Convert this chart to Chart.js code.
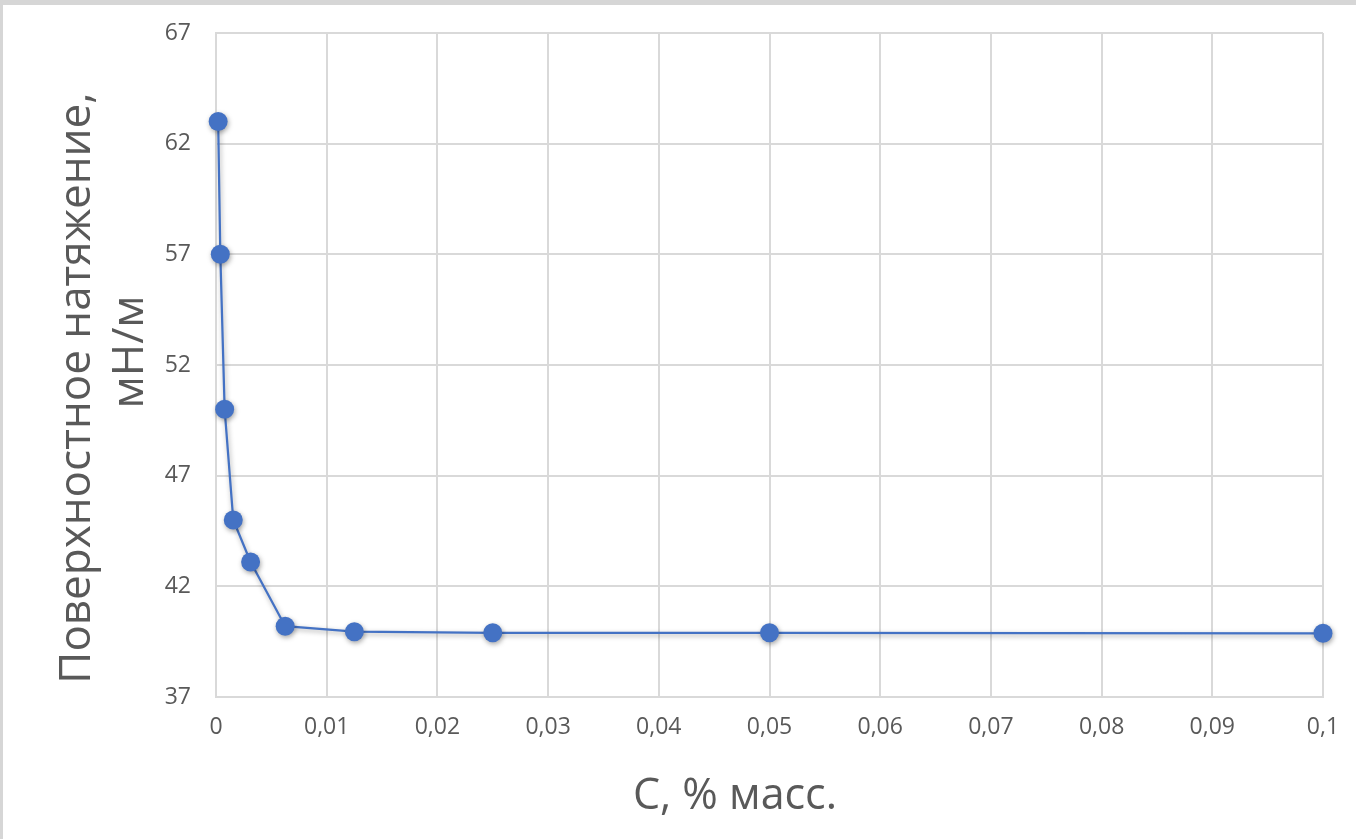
<!DOCTYPE html>
<html>
<head>
<meta charset="utf-8">
<script src="https://cdn.jsdelivr.net/npm/chart.js@4/dist/chart.umd.min.js"></script>
<style>
  html, body { margin: 0; padding: 0; background: #d6d6d6; }
  #frame { position: absolute; left: 3px; top: 5px; width: 1353px; height: 834px; background: #ffffff; }
  #wrap { position: absolute; left: 0; top: 0; width: 1356px; height: 839px; }
</style>
</head>
<body>
<div id="frame"></div>
<div id="wrap"><canvas id="c" width="1356" height="839"></canvas></div>
<script>
// Concentration, % mass
const concentrations = [0.000195, 0.00039, 0.00078, 0.00156, 0.003125, 0.00625, 0.0125, 0.025, 0.05, 0.1];
// Surface tension, mN/m
const surfaceTension = [63, 57, 50, 45, 43.1, 40.2, 39.95, 39.9, 39.9, 39.88];
// Tick labels
const xTickLabels = ['0', '0,01', '0,02', '0,03', '0,04', '0,05', '0,06', '0,07', '0,08', '0,09', '0,1'];
const yTickValues = [37, 42, 47, 52, 57, 62, 67];
const xTitle = 'C, % масс.';
const yTitle = ['Поверхностное натяжение,', 'мН/м'];

const points = concentrations.map((x, i) => ({ x: x, y: surfaceTension[i] }));
const gridColor = '#d9d9d9';
const textColor = '#595959';
const fontFamily = '"Open Sans", "Noto Sans", sans-serif';

const shadowPlugin = {
  id: 'shadow',
  beforeDatasetsDraw(chart) {
    const ctx = chart.ctx;
    ctx.save();
    ctx.shadowColor = 'rgba(0,0,0,0.35)';
    ctx.shadowBlur = 5;
    ctx.shadowOffsetX = 1;
    ctx.shadowOffsetY = 2;
  },
  afterDatasetsDraw(chart) {
    chart.ctx.restore();
  }
};

function drawRotated(ctx, text, x, y, size) {
  ctx.save();
  ctx.fillStyle = textColor;
  ctx.textAlign = 'center';
  ctx.textBaseline = 'middle';
  ctx.font = size + 'px ' + fontFamily;
  ctx.translate(x, y);
  ctx.rotate(-Math.PI / 2);
  ctx.fillText(text, 0, 0);
  ctx.restore();
}

const titlesPlugin = {
  id: 'titles',
  afterDraw(chart) {
    const ctx = chart.ctx;
    ctx.save();
    ctx.fillStyle = textColor;
    ctx.textAlign = 'center';
    ctx.textBaseline = 'middle';
    ctx.font = '43px ' + fontFamily;
    ctx.fillText(xTitle, 735, 797);
    ctx.restore();
    drawRotated(ctx, yTitle[0], 77, 388, 44);
    drawRotated(ctx, yTitle[1], 130, 352, 44);
  }
};

new Chart(document.getElementById('c'), {
  type: 'scatter',
  data: {
    datasets: [{
      data: points,
      showLine: true,
      borderColor: '#4472c4',
      backgroundColor: '#4472c4',
      borderWidth: 2.25,
      pointRadius: 9.5,
      pointHoverRadius: 9.5,
      pointBorderWidth: 0,
      tension: 0,
      clip: false
    }]
  },
  options: {
    responsive: false,
    animation: false,
    layout: { padding: { top: 33, right: 33, left: 0, bottom: 0 } },
    plugins: { legend: { display: false }, tooltip: { enabled: false } },
    scales: {
      x: {
        type: 'linear',
        min: 0, max: 0.1,
        afterBuildTicks: (s) => { s.ticks = xTickLabels.map((_, i) => ({ value: i / 100 })); },
        ticks: {
          color: textColor,
          font: { family: fontFamily, size: 23 },
          padding: 17,
          maxRotation: 0,
          autoSkip: false,
          callback: (v, i) => xTickLabels[i]
        },
        grid: { color: gridColor, lineWidth: 2, drawTicks: false },
        border: { color: gridColor, width: 2 },
        title: { display: false },
        afterFit: (s) => { s.height = 142; s.paddingLeft = 0; s.paddingRight = 0; }
      },
      y: {
        type: 'linear',
        min: 37, max: 67,
        afterBuildTicks: (s) => { s.ticks = yTickValues.map(v => ({ value: v })); },
        ticks: {
          color: textColor,
          font: { family: fontFamily, size: 23 },
          padding: 25,
          autoSkip: false,
          callback: (v) => String(v)
        },
        grid: { color: gridColor, lineWidth: 2, drawTicks: false },
        border: { color: gridColor, width: 2 },
        title: { display: false },
        afterFit: (s) => { s.width = 216; s.paddingTop = 0; s.paddingBottom = 0; }
      }
    }
  },
  plugins: [shadowPlugin, titlesPlugin]
});
</script>
</body>
</html>
